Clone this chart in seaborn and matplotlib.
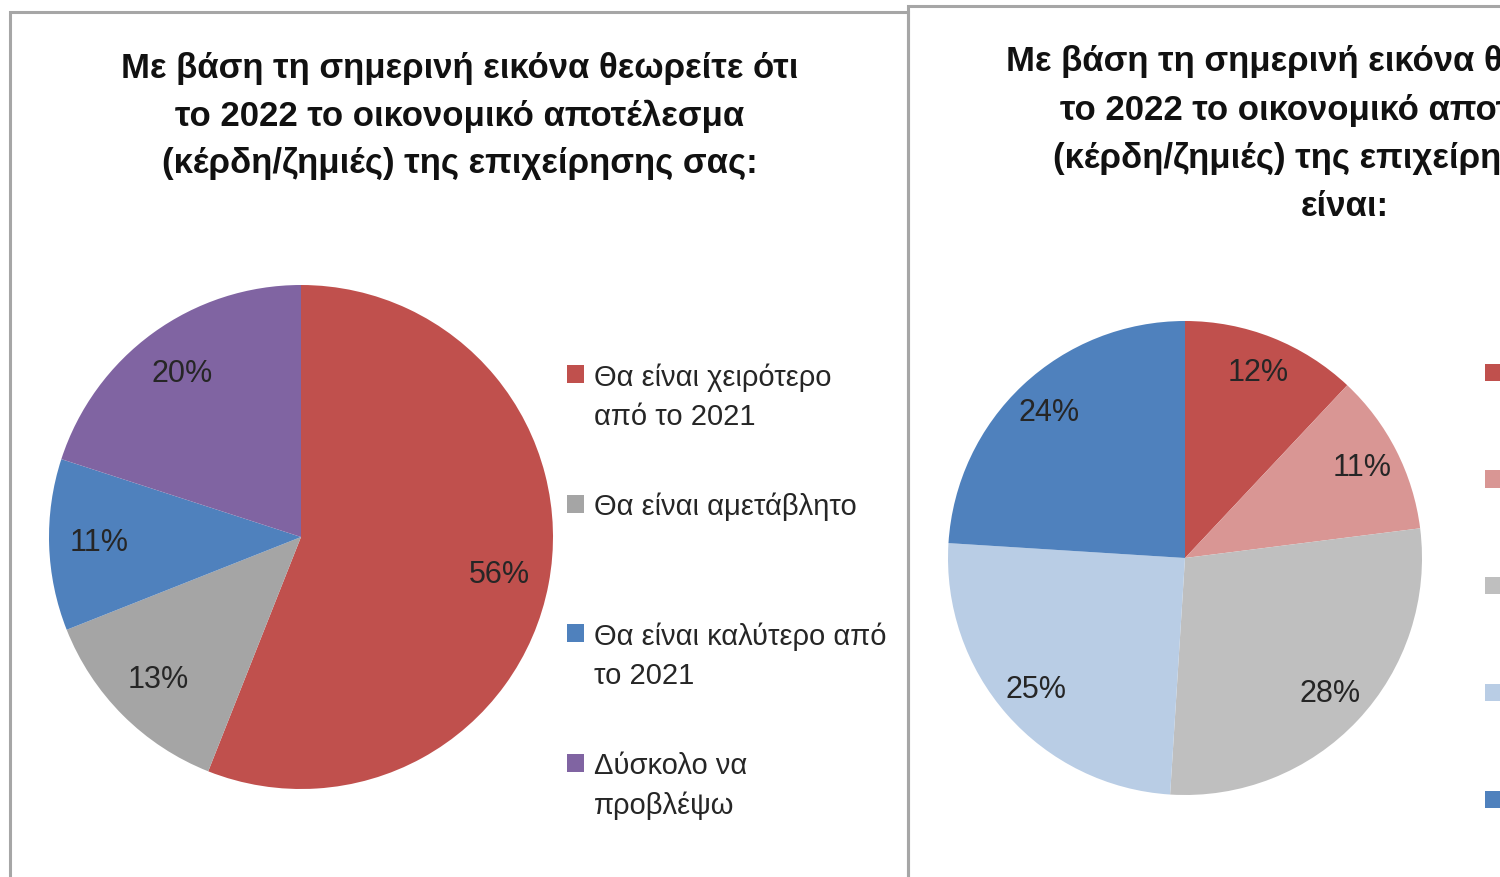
import matplotlib
matplotlib.use("Agg")
import matplotlib.pyplot as plt
import matplotlib.patches as mpatches
from matplotlib.legend_handler import HandlerPatch
import seaborn as sns

# Data
left_labels = ["Θα είναι χειρότερο\nαπό το 2021", "Θα είναι αμετάβλητο\n ",
               "Θα είναι καλύτερο από\nτο 2021", "Δύσκολο να\nπροβλέψω"]
left_values = [56, 13, 11, 20]
left_colors = ["#C0504D", "#A5A5A5", "#4F81BD", "#8064A2"]

# right legend text lies outside the visible crop
right_labels = ["", "", "", "", ""]
right_values = [12, 11, 28, 25, 24]
right_colors = ["#C0504D", "#D99694", "#BFBFBF", "#B9CDE5", "#4F81BD"]

title_left = "Με βάση τη σημερινή εικόνα θεωρείτε ότι\nτο 2022 το οικονομικό αποτέλεσμα\n(κέρδη/ζημιές) της επιχείρησης σας:"
title_right = "Με βάση τη σημερινή εικόνα θεωρείτε ότι\nτο 2022 το οικονομικό αποτέλεσμα\n(κέρδη/ζημιές) της επιχείρησης σας\nείναι:"

sns.set_theme(style="white")
plt.rcParams["font.family"] = ["Liberation Sans", "DejaVu Sans"]

W, H = 1500, 877
fig = plt.figure(figsize=(W / 100, H / 100), dpi=100)
txt_color = "#262626"


def px_axes(cx, cy, r):
    return fig.add_axes([(cx - r) / W, (H - cy - r) / H, 2 * r / W, 2 * r / H])


def top_square(legend, orig_handle, xdescent, ydescent, width, height, fontsize):
    # put the square next to the first line of a two-line label
    return mpatches.Rectangle((-xdescent, -ydescent + 0.8 * fontsize), width, height)


def plain_square(legend, orig_handle, xdescent, ydescent, width, height, fontsize):
    return mpatches.Rectangle((-xdescent, -ydescent), width, height)


# panel borders
fig.patches.append(mpatches.Rectangle((10 / W, -0.1), 898 / W, (H - 12) / H + 0.1,
                                      transform=fig.transFigure, fill=False,
                                      edgecolor="#A6A6A6", linewidth=2.2))
fig.patches.append(mpatches.Rectangle((908 / W, -0.1), 700 / W, (H - 6) / H + 0.1,
                                      transform=fig.transFigure, fill=False,
                                      edgecolor="#A6A6A6", linewidth=2.2))

# left pie
ax1 = px_axes(301, 537, 252)
wedges1, _, _ = ax1.pie(left_values, colors=left_colors, startangle=90,
                        counterclock=False, autopct="%d%%", pctdistance=0.8,
                        wedgeprops=dict(linewidth=0),
                        textprops=dict(fontsize=22, color=txt_color))
ax1.set_xlim(-1, 1)
ax1.set_ylim(-1, 1)
ax1.set_aspect("equal")

fig.text(460 / W, 1 - 52 / H, title_left, ha="center", va="top", fontsize=25,
         fontweight="bold", color="#111111", linespacing=1.55)

leg1 = fig.legend(wedges1, left_labels, loc="upper left", bbox_to_anchor=(567 / W, 1 - 363 / H),
                  frameon=False, fontsize=21, labelcolor=txt_color, handlelength=0.57,
                  handleheight=0.57, handletextpad=0.34, labelspacing=2.13,
                  borderpad=0, borderaxespad=0,
                  handler_map={mpatches.Wedge: HandlerPatch(patch_func=top_square)})
for t in leg1.get_texts():
    t.set_linespacing(1.5)

# right pie
ax2 = px_axes(1185, 558, 237)
wedges2, _, _ = ax2.pie(right_values, colors=right_colors, startangle=90,
                        counterclock=False, autopct="%d%%", pctdistance=0.84,
                        wedgeprops=dict(linewidth=0),
                        textprops=dict(fontsize=22, color=txt_color))
ax2.set_xlim(-1, 1)
ax2.set_ylim(-1, 1)
ax2.set_aspect("equal")

fig.text(1345 / W, 1 - 45 / H, title_right, ha="center", va="top", fontsize=25,
         fontweight="bold", color="#111111", linespacing=1.58)

fig.legend(wedges2, right_labels, loc="upper left", bbox_to_anchor=(1485 / W, 1 - 362 / H),
           frameon=False, fontsize=20, handlelength=0.57,
           handleheight=0.57, handletextpad=0.3, labelspacing=2.91,
           borderpad=0, borderaxespad=0,
           handler_map={mpatches.Wedge: HandlerPatch(patch_func=plain_square)})

fig.savefig("out.png", dpi=100, facecolor="white")
